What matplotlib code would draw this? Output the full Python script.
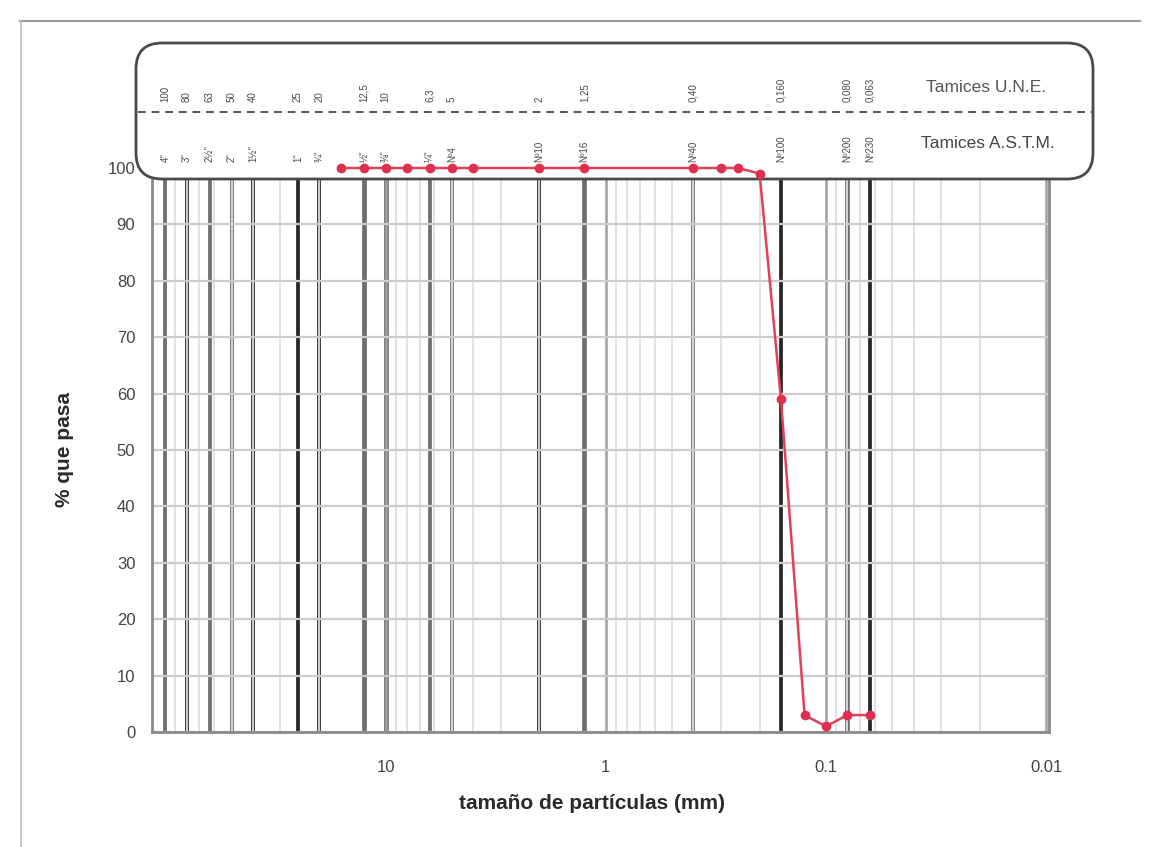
"""
Curva granulométrica: % que pasa frente a tamaño de partículas,
con los tamices U.N.E. y A.S.T.M. marcados en la cabecera.
"""

import matplotlib
matplotlib.use("Agg")
import matplotlib.pyplot as plt
from matplotlib.patches import FancyBboxPatch
from matplotlib.lines import Line2D
from matplotlib.ticker import FixedLocator, NullFormatter
from matplotlib import transforms


# -------------------------------------------------
# Datos
# -------------------------------------------------

# Abertura de cada tamiz (mm)
sieve_mm = [100, 80, 63, 50, 40, 25, 20, 12.5, 10, 6.3, 5, 2, 1.25,
            0.4, 0.16, 0.08, 0.063]

une_labels = ["100", "80", "63", "50", "40", "25", "20", "12,5", "10",
              "6,3", "5", "2", "1,25", "0,40", "0,160", "0,080", "0,063"]

astm_labels = ['4"', '3"', '2½"', '2"', '1½"', '1"', '¾"', '½"', '⅜"',
               '¼"', 'Nº4', 'Nº10', 'Nº16', 'Nº40', 'Nº100', 'Nº200',
               'Nº230']

# Ensayo: tamaño (mm) y % que pasa
sample_mm = [16, 12.5, 10, 8, 6.3, 5, 4, 2, 1.25, 0.4, 0.3, 0.25, 0.2,
             0.16, 0.125, 0.1, 0.08, 0.063]
passing = [100, 100, 100, 100, 100, 100, 100, 100, 100, 100, 100, 100, 99,
           59, 3, 1, 3, 3]

y_ticks = [0, 10, 20, 30, 40, 50, 60, 70, 80, 90, 100]
x_ticks = [10, 1, 0.1, 0.01]
x_tick_labels = ["10", "1", "0.1", "0.01"]

# tamices trazados en negro (el resto en gris)
dark_sieves = [80, 40, 25, 20, 2, 0.16, 0.063]
thick_sieves = [12.5, 10, 1.25, 0.08]


# -------------------------------------------------
# Figura
# -------------------------------------------------

W, H = 1151, 847
fig = plt.figure(figsize=(W / 100, H / 100), dpi=100)
plt.rcParams["font.family"] = ["Liberation Sans", "DejaVu Sans"]

ax = fig.add_axes([152 / W, 1 - 732 / H, (1049 - 152) / W, (732 - 168) / H])

ax.set_xscale("log")
ax.set_xlim(115, 0.0097)
ax.set_ylim(0, 100)

# rejilla
ax.xaxis.set_minor_locator(
    FixedLocator([m * 10.0 ** e for e in range(-2, 3) for m in range(2, 10)]))
ax.xaxis.set_minor_formatter(NullFormatter())
ax.grid(True, which="minor", axis="x", color="#dedede", linewidth=1.3)
ax.grid(True, which="major", axis="x", color="#a0a0a0", linewidth=1.8)
ax.set_yticks(y_ticks)
ax.grid(True, which="major", axis="y", color="#cccccc", linewidth=1.6)
ax.axhline(70, color="#8a8a8a", linewidth=1.2, linestyle=(0, (8, 6)),
           zorder=1)

# líneas de tamices
for size in sieve_mm:
    color = "#262626" if size in dark_sieves else "#6e6e6e"
    width = 3.4 if size in thick_sieves else 2.7
    ax.axvline(size, color=color, linewidth=width, zorder=1.5)

ax.set_xticks(x_ticks)
ax.set_xticklabels(x_tick_labels)
ax.tick_params(axis="both", which="both", length=0, labelsize=12,
               labelcolor="#444444")
ax.tick_params(axis="x", pad=20)
ax.tick_params(axis="y", pad=12)

for side in ["left", "bottom", "right"]:
    ax.spines[side].set_color("#8a8a8a")
    ax.spines[side].set_linewidth(2)
    ax.spines[side].set_zorder(1.8)
ax.spines["top"].set_visible(False)

ax.set_xlabel("tamaño de partículas (mm)", fontsize=15, fontweight="bold",
              color="#2a2a2a")
ax.set_ylabel("% que pasa", fontsize=15, fontweight="bold",
              color="#2a2a2a")
ax.xaxis.set_label_coords(0.49, -0.11)
ax.yaxis.set_label_coords(-0.087, 0.5)


# -------------------------------------------------
# Cabecera con los tamices
# -------------------------------------------------

px = transforms.IdentityTransform()
box = FancyBboxPatch((136, H - 179), 957, 136,
                     boxstyle="round,pad=0,rounding_size=26",
                     facecolor="white", edgecolor="#4a4a4a", linewidth=2,
                     transform=px, clip_on=False, zorder=2.6)
ax.add_artist(box)
ax.add_artist(Line2D([138, 1092], [H - 112, H - 112], transform=px,
                     color="#555555", linewidth=1.4, linestyle=(0, (4, 3)),
                     clip_on=False, zorder=2.7))

header = transforms.blended_transform_factory(ax.transData, fig.transFigure)
for size, une, astm in zip(sieve_mm, une_labels, astm_labels):
    ax.text(size, 1 - 102 / H, une, transform=header, rotation=90,
            ha="center", va="bottom", fontsize=7, color="#4a4a4a",
            zorder=3)
    ax.text(size, 1 - 162 / H, astm, transform=header, rotation=90,
            ha="center", va="bottom", fontsize=7, color="#4a4a4a",
            zorder=3)

fig.text(986 / W, 1 - 87 / H, "Tamices U.N.E.", ha="center", va="center",
         fontsize=12.5, color="#555555")
fig.text(988 / W, 1 - 143 / H, "Tamices A.S.T.M.", ha="center",
         va="center", fontsize=12.5, color="#444444")


# -------------------------------------------------
# Curva granulométrica
# -------------------------------------------------

ax.plot(sample_mm, passing, color="#e0405a", linewidth=1.8, marker="o",
        markersize=6, markerfacecolor="#e03050", markeredgecolor="#e03050",
        clip_on=False, zorder=4)


# marco exterior del escaneo
fig.add_artist(Line2D([20, 1140], [H - 21, H - 21], transform=px,
                      color="#9a9a9a", linewidth=1.5))
fig.add_artist(Line2D([21, 21], [0, H - 21], transform=px,
                      color="#bdbdbd", linewidth=1.2))

fig.savefig("out.png", dpi=100)
